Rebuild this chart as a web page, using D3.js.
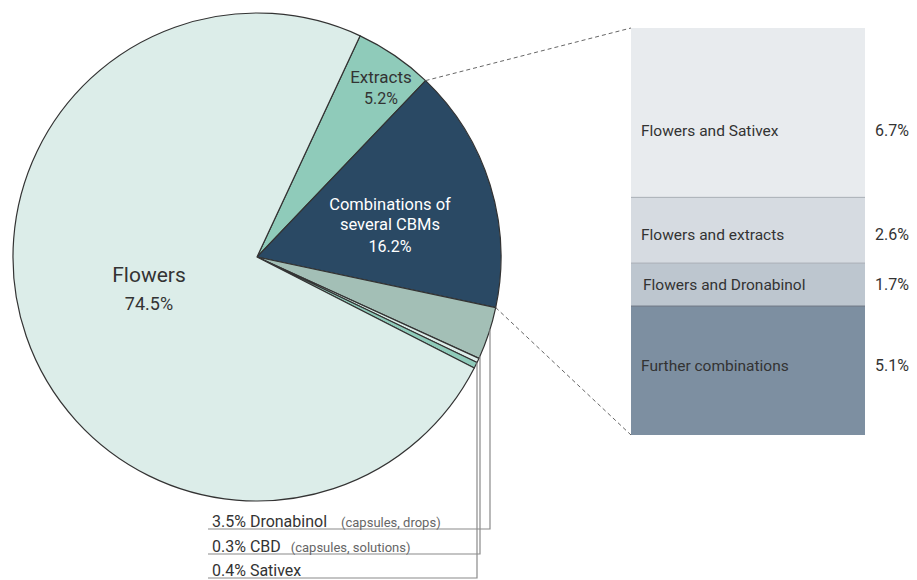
<!DOCTYPE html>
<html>
<head>
<meta charset="utf-8">
<script src="https://cdn.jsdelivr.net/npm/d3@7"></script>
<style>
  body { margin: 0; background: #fff; }
  svg { font-family: Roboto, "Open Sans", sans-serif; }
</style>
</head>
<body>
<svg id="chart" width="917" height="580"></svg>
<script>
// pie slices, clockwise from the Extracts slice
const sliceNames = ["Extracts", "Combinations", "Dronabinol", "CBD", "Sativex", "Flowers"];
const sliceValues = [5.2, 16.2, 3.5, 0.3, 0.4, 74.5];
const sliceColors = ["#8fcbba", "#2a4964", "#a3bfb6", "#dcede9", "#8fcbba", "#dcede9"];

// breakdown of "Combinations of several CBMs"
const comboNames = ["Flowers and Sativex", "Flowers and extracts", "Flowers and Dronabinol", "Further combinations"];
const comboValues = [6.7, 2.6, 1.7, 5.1];
const comboColors = ["#e8ebee", "#d6dbe1", "#bdc6cf", "#7d8fa1"];

// small slices labelled below the pie
const smallNames = ["Dronabinol", "CBD", "Sativex"];
const smallValues = [3.5, 0.3, 0.4];
const smallNotes = ["(capsules, drops)", "(capsules, solutions)", ""];

const svg = d3.select("#chart");
const cx = 257, cy = 257, r = 244;
const txt = "#333";

const pie = d3.pie().sort(null).value(d => d)
    .startAngle(25 * Math.PI / 180)
    .endAngle(25 * Math.PI / 180 + 2 * Math.PI);
const arcs = pie(sliceValues);
const arc = d3.arc().innerRadius(0).outerRadius(r);

const g = svg.append("g").attr("transform", "translate(" + cx + "," + cy + ")");

g.selectAll("path")
    .data(arcs)
    .enter().append("path")
    .attr("d", arc)
    .attr("fill", (d, i) => sliceColors[i])
    .attr("stroke", "#333")
    .attr("stroke-width", 1.2)
    .attr("stroke-linejoin", "round");

function pt(angle) {
    return [cx + r * Math.sin(angle), cy - r * Math.cos(angle)];
}

// stacked bar for the combinations
const barX = 631, barW = 234, barTop = 28, barBottom = 435;
const y = d3.scaleLinear()
    .domain([0, d3.sum(comboValues)])
    .range([barTop, barBottom]);
const stacked = comboValues.map((v, i) => ({
    name: comboNames[i], value: v,
    y0: d3.sum(comboValues.slice(0, i)), y1: d3.sum(comboValues.slice(0, i + 1))
}));
const labelShift = [18, 5, 0, -5]; // text nudge inside each segment

// dashed connectors
const combo = arcs[1];
const p0 = pt(combo.startAngle), p1 = pt(combo.endAngle);
svg.append("line")
    .attr("x1", p0[0]).attr("y1", p0[1]).attr("x2", barX).attr("y2", barTop)
    .attr("stroke", "#666").attr("stroke-dasharray", "4,3");
svg.append("line")
    .attr("x1", p1[0]).attr("y1", p1[1]).attr("x2", barX).attr("y2", barBottom)
    .attr("stroke", "#666").attr("stroke-dasharray", "4,3");

const bar = svg.append("g");
bar.selectAll("rect")
    .data(stacked)
    .enter().append("rect")
    .attr("x", barX)
    .attr("y", d => y(d.y0))
    .attr("width", barW)
    .attr("height", d => y(d.y1) - y(d.y0))
    .attr("fill", (d, i) => comboColors[i]);
bar.selectAll("line.sep")
    .data(stacked.slice(1))
    .enter().append("line")
    .attr("class", "sep")
    .attr("x1", barX).attr("x2", barX + barW)
    .attr("y1", d => y(d.y0)).attr("y2", d => y(d.y0))
    .attr("stroke", (d, i) => i == 2 ? "#6b7480" : "#a8aeb5")
    .attr("stroke-width", 1);
bar.selectAll("text.name")
    .data(stacked)
    .enter().append("text")
    .attr("class", "name")
    .attr("x", (d, i) => i == 2 ? barX + 12 : barX + 10)
    .attr("y", (d, i) => (y(d.y0) + y(d.y1)) / 2 + 5 + labelShift[i])
    .attr("font-size", 15.5)
    .attr("fill", txt)
    .text(d => d.name);
bar.selectAll("text.val")
    .data(stacked)
    .enter().append("text")
    .attr("class", "val")
    .attr("x", 875)
    .attr("y", (d, i) => (y(d.y0) + y(d.y1)) / 2 + 5 + labelShift[i])
    .attr("font-size", 16)
    .attr("fill", txt)
    .text(d => d.value.toFixed(1) + "%");

// in-pie labels
function label(lines, x, y0, sizes, color, gap) {
    lines.forEach((s, i) => {
        svg.append("text")
            .attr("x", x).attr("y", y0 + gap[i])
            .attr("text-anchor", "middle")
            .attr("font-size", sizes[i])
            .attr("fill", color)
            .text(s);
    });
}
label(["Flowers", sliceValues[5].toFixed(1) + "%"], 149, 282, [21, 18], txt, [0, 28]);
label(["Extracts", sliceValues[0].toFixed(1) + "%"], 381, 83, [17, 16], txt, [0, 21]);
label(["Combinations of", "several CBMs", sliceValues[1].toFixed(1) + "%"], 390, 210, [16.5, 16.5, 16], "#fff", [0, 20, 42]);

// leader lines for the small slices
const lineX = [490, 480, 477];
const lineY = [529, 554, 578];
const labY = [527, 552, 576];
const small = svg.append("g");
smallNames.forEach((n, i) => {
    const xx = lineX[i];
    const ys = cy + Math.sqrt(r * r - (xx - cx) * (xx - cx));
    small.append("polyline")
        .attr("points", [[xx, ys], [xx, lineY[i]], [208, lineY[i]]].join(" "))
        .attr("fill", "none")
        .attr("stroke", "#8a8a8a")
        .attr("stroke-width", 1.2);
    const t = small.append("text")
        .attr("x", 212).attr("y", labY[i])
        .attr("font-size", 16)
        .attr("fill", txt);
    t.append("tspan").text(smallValues[i].toFixed(1) + "% " + n);
    if (smallNotes[i]) {
        t.append("tspan")
            .attr("dx", i == 0 ? 14 : 10)
            .attr("font-size", 13)
            .attr("fill", "#666")
            .text(smallNotes[i]);
    }
});
</script>
</body>
</html>
